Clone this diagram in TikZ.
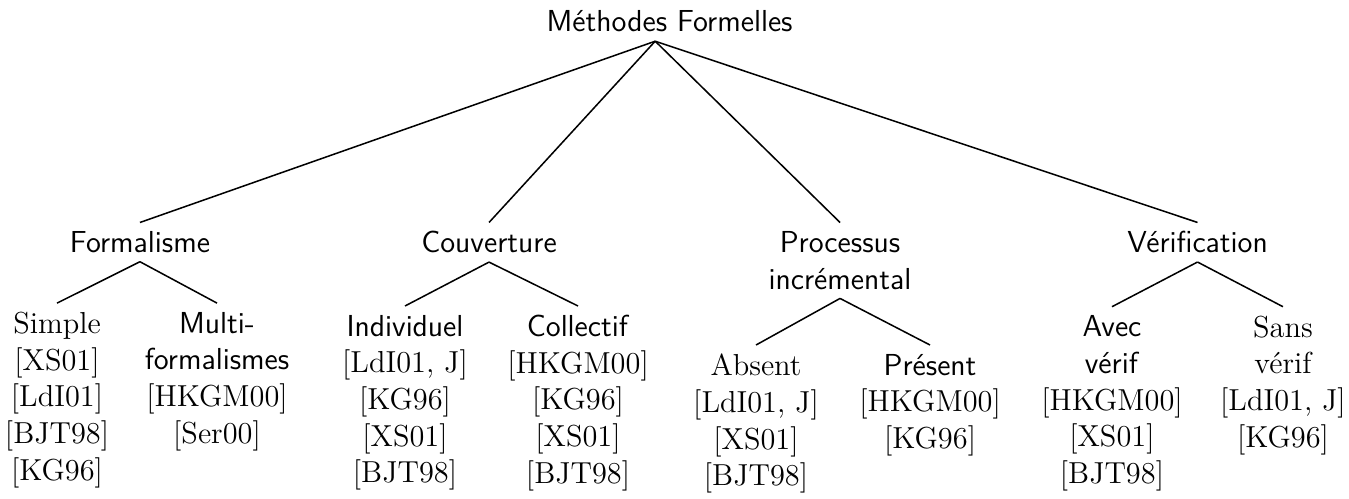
\documentclass[tikz,border=0pt]{standalone}
\usepackage{fontspec}
\usepackage{tikz}
\newcommand{\bibref}[1]{{[}#1]}

\begin{document}
\begin{tikzpicture}[
    every node/.style={font=\fontsize{12}{14.5}\selectfont, align=center},
    ast/.style={font=\fontsize{12}{14.5}\selectfont\sffamily, anchor=north},
    blatt/.style={anchor=north},
    kante/.style={line width=0.6pt}
]
\def\yA{-3.09} % Zeile der Kategorien
\def\yB{-4.21} % Zeile der Blaetter
\useasboundingbox (0,0) rectangle (18.736,-6.917);

% =========================================================
% Wurzel
% =========================================================
\node[font=\fontsize{12}{14.5}\selectfont\sffamily, anchor=base] (root) at (9.30,-0.444) {Méthodes Formelles};

% =========================================================
% Kategorien
% =========================================================
\node[ast] (form)  at (1.944,\yA)  {Formalisme};
\node[ast] (couv)  at (6.792,\yA)  {Couverture};
\node[ast] (proc)  at (11.667,\yA) {Processus\\incrémental};
\node[ast] (verif) at (16.632,\yA) {Vérification};

% =========================================================
% Blaetter mit Referenzen
% =========================================================
% --- Formalisme ---
\node[blatt] (simple) at (0.792,\yB) {Simple\\\bibref{XS01}\\\bibref{LdI01}\\\bibref{BJT98}\\\bibref{KG96}};
\node[blatt] (multi)  at (3.014,\yB) {\textsf{Multi-}\\\textsf{formalismes}\\\bibref{HKGM00}\\\bibref{Ser00}};
% --- Couverture ---
\node[blatt] (indiv) at (5.625,\yB-0.04) {\textsf{Individuel}\\\bibref{LdI01, J}\\\bibref{KG96}\\\bibref{XS01}\\\bibref{BJT98}};
\node[blatt] (coll)  at (8.028,\yB-0.04) {\textsf{Collectif}\\\bibref{HKGM00}\\\bibref{KG96}\\\bibref{XS01}\\\bibref{BJT98}};
% --- Processus incremental ---
\node[blatt] (absent)  at (10.5,-4.792)   {Absent\\\bibref{LdI01, J}\\\bibref{XS01}\\\bibref{BJT98}};
\node[blatt] (present) at (12.917,-4.792) {\textsf{Présent}\\\bibref{HKGM00}\\\bibref{KG96}};
% --- Verification ---
\node[blatt] (avec) at (15.444,\yB-0.05) {\textsf{Avec}\\\textsf{vérif}\\\bibref{HKGM00}\\\bibref{XS01}\\\bibref{BJT98}};
\node[blatt] (sans) at (17.819,\yB-0.05) {Sans\\vérif\\\bibref{LdI01, J}\\\bibref{KG96}};

% =========================================================
% Kanten
% =========================================================
\foreach \k in {form,couv,proc,verif}
    \draw[kante] ([xshift=-0.2cm]root.south) -- (\k.north);
\foreach \p/\a/\b in {form/simple/multi, couv/indiv/coll, proc/absent/present, verif/avec/sans} {
    \draw[kante] (\p.south) -- (\a.north);
    \draw[kante] (\p.south) -- (\b.north);
}

\end{tikzpicture}
\end{document}
